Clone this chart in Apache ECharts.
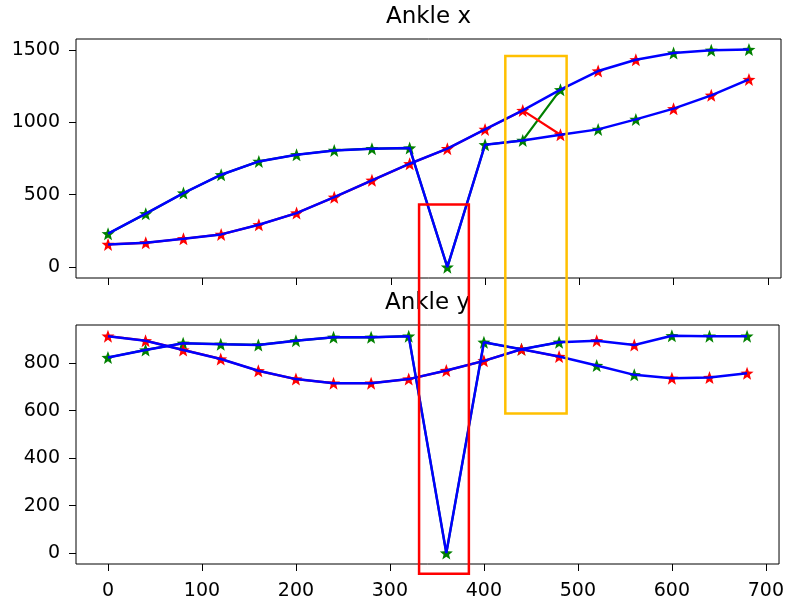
<!DOCTYPE html>
<html>
<head>
<meta charset="utf-8">
<script src="https://cdn.jsdelivr.net/npm/echarts@6/dist/echarts.min.js"></script>
<style>
html,body{margin:0;padding:0;background:#fff;}
#chart{width:787px;height:601px;}
</style>
</head>
<body>
<div id="chart"></div>
<script>
// ---- data ----
var frames = [0,40,80,120,160,200,240,280,320,360,400,440,480,520,560,600,640,680];

// Ankle x
var xTrackA = [231,369,511,638,730,776,806,818,822,0,845,875,914,951,1020,1094,1186,1296];
var xTrackB = [157,168,196,226,293,373,483,599,714,818,951,1082,1225,1354,1432,1478,1497,1503];
var xGreen  = [231,369,511,638,730,776,806,818,822,0,845,875,1225,951,1020,1478,1497,1503];
var xRed    = [157,168,196,226,293,373,483,599,714,818,951,1082,914,1354,1432,1094,1186,1296];

// Ankle y
var yTrackA = [824,856,884,880,877,895,909,909,914,0,888,859,828,790,751,737,740,758];
var yTrackB = [914,895,856,818,768,733,716,716,733,769,810,859,888,895,877,916,914,914];
var yGreen  = [824,856,884,880,877,895,909,909,914,0,888,859,888,790,751,916,914,914];
var yRed    = [914,895,856,818,768,733,716,716,733,769,810,859,828,895,877,737,740,758];

// raw lines are drawn up to this frame index (inclusive)
var rawLineEnd = 12;

var xTicks = [0,100,200,300,400,500,600,700];
var topTicks = [0,500,1000,1500];
var botTicks = [0,200,400,600,800];
var titles = ['Ankle x','Ankle y'];

// highlight boxes: frame range, top value (upper plot), bottom value (lower plot)
var boxFrames = [[330,384],[421.5,488]];
var boxTop = [433,1457];
var boxBottom = [-87,588];
var boxColors = ['#ff0000','#ffc000'];

// ---- helpers ----
function starPath(){
  var pts=[], R=1, r=0.42;
  for(var i=0;i<10;i++){
    var a = -Math.PI/2 + i*Math.PI/5;
    var rad = (i%2===0)?R:r;
    pts.push((rad*Math.cos(a)).toFixed(4)+' '+(rad*Math.sin(a)).toFixed(4));
  }
  return 'path://M'+pts.join(' L')+' Z';
}
var STAR = starPath();
function pairs(xs, ys){ return xs.map(function(x,i){ return [x, ys[i]]; }); }
function rawPairs(xs, ys){ return xs.slice(0, rawLineEnd+1).map(function(x,i){ return [x, ys[i]]; }); }
function plain(v){ return String(v); }

var FONT = 'DejaVu Sans';
function xAxis(gi, showLabels){
  return {
    type:'value', gridIndex:gi, min:-34, max:714, position:'bottom',
    axisLine:{show:false, onZero:false},
    splitLine:{show:false},
    axisTick:{show:true, inside:false, length:7, lineStyle:{color:'#000',width:1}, customValues:xTicks},
    axisLabel:{show:showLabels, customValues:xTicks, formatter:plain, color:'#000', fontFamily:FONT, fontSize:19, margin:18}
  };
}
function yAxis(gi, mn, mx, ticks){
  return {
    type:'value', gridIndex:gi, min:mn, max:mx, position:'left',
    axisLine:{show:false, onZero:false},
    splitLine:{show:false},
    axisTick:{show:true, inside:false, length:7, lineStyle:{color:'#000',width:1}, customValues:ticks},
    axisLabel:{customValues:ticks, formatter:plain, color:'#000', fontFamily:FONT, fontSize:19, margin:16}
  };
}
function scatter(gi, xs, ys, color){
  return {type:'scatter', xAxisIndex:gi, yAxisIndex:gi, data:pairs(xs,ys), symbol:STAR, symbolSize:13,
    itemStyle:{color:color, opacity:1}, z:2, silent:true, animation:false};
}
function line(gi, data, color, w, z){
  return {type:'line', xAxisIndex:gi, yAxisIndex:gi, data:data, showSymbol:false, symbol:'none',
    lineStyle:{color:color, width:w}, z:z, silent:true, animation:false};
}

var chart = echarts.init(document.getElementById('chart'), null, {renderer:'canvas'});
var option = {
  backgroundColor:'#fff',
  animation:false,
  grid:[
    {left:76, right:6, top:39, height:239, show:true, borderColor:'#000', borderWidth:1, backgroundColor:'transparent'},
    {left:76, right:6, top:325, height:239, show:true, borderColor:'#000', borderWidth:1, backgroundColor:'transparent'}
  ],
  xAxis:[xAxis(0,false), xAxis(1,true)],
  yAxis:[yAxis(0,-75,1575,topTicks), yAxis(1,-46,961,botTicks)],
  series:[
    scatter(0, frames, xGreen, '#008000'),
    scatter(0, frames, xRed, '#ff0000'),
    line(0, rawPairs(frames, xGreen), '#008000', 2.2, 3),
    line(0, rawPairs(frames, xRed), '#ff0000', 2.2, 3),
    line(0, pairs(frames, xTrackA), '#0000ff', 2.5, 4),
    line(0, pairs(frames, xTrackB), '#0000ff', 2.5, 4),
    scatter(1, frames, yGreen, '#008000'),
    scatter(1, frames, yRed, '#ff0000'),
    line(1, rawPairs(frames, yGreen), '#008000', 2.2, 3),
    line(1, rawPairs(frames, yRed), '#ff0000', 2.2, 3),
    line(1, pairs(frames, yTrackA), '#0000ff', 2.5, 4),
    line(1, pairs(frames, yTrackB), '#0000ff', 2.5, 4)
  ]
};
chart.setOption(option);

// titles centred over each plot area, and overlay boxes spanning both subplots
var gfx = [];
[0,1].forEach(function(gi){
  var rect = chart.getModel().getComponent('grid', gi).coordinateSystem.getRect();
  gfx.push({type:'text', z:50, silent:true, x:rect.x + rect.width/2, y:rect.y - 21.5,
    style:{text:titles[gi], fontFamily:FONT, fontSize:23, fill:'#000', align:'center', verticalAlign:'middle'}});
});
boxFrames.forEach(function(fr,i){
  var p1 = chart.convertToPixel({gridIndex:0}, [fr[0], boxTop[i]]);
  var p2 = chart.convertToPixel({gridIndex:1}, [fr[1], boxBottom[i]]);
  gfx.push({type:'rect', z:100, silent:true,
    shape:{x:p1[0], y:p1[1], width:p2[0]-p1[0], height:p2[1]-p1[1]},
    style:{fill:'none', stroke:boxColors[i], lineWidth:2.5}});
});
chart.setOption({graphic:gfx});
</script>
</body>
</html>
